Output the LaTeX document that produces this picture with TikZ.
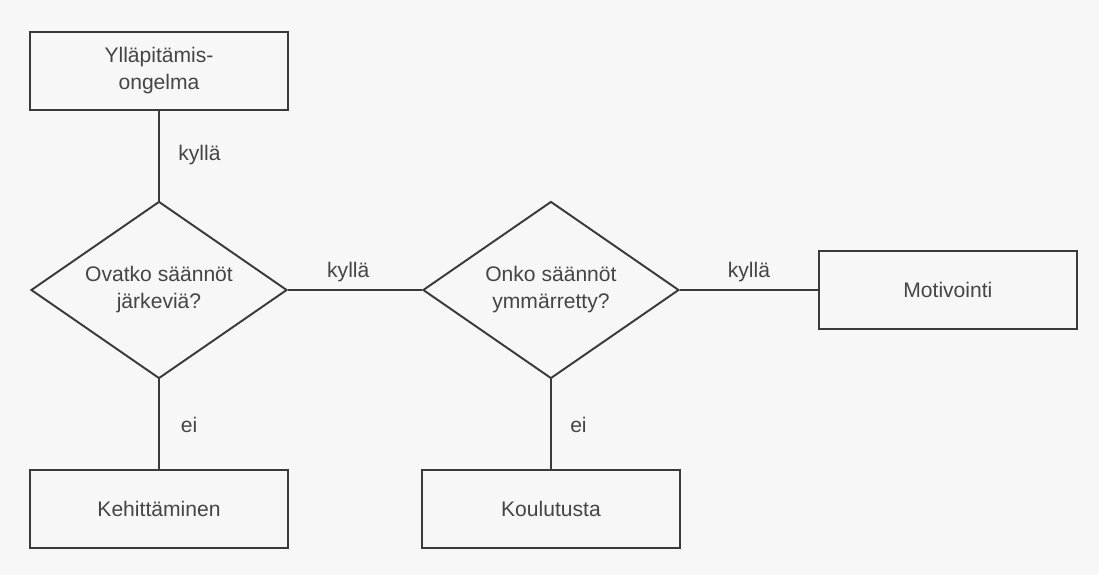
\documentclass[tikz,border=0pt]{standalone}
\usepackage{fontspec}
\setmainfont{Liberation Sans}
\usetikzlibrary{positioning, shapes.geometric}
\definecolor{ink}{HTML}{3A3A3A}
\definecolor{inktext}{HTML}{454545}
\definecolor{paper}{HTML}{F7F7F7}
\tikzset{
  box/.style={
    rectangle, draw=ink, line width=1.1pt,
    minimum width=5.16cm, minimum height=1.55cm,
    align=center, text=inktext, font=\fontsize{12}{15.4}\selectfont
  },
  question/.style={
    diamond, aspect=1.45, inner sep=0pt,
    draw=ink, line width=1.1pt,
    minimum width=5.12cm, minimum height=3.54cm,
    align=center, text=inktext, font=\fontsize{12}{15.4}\selectfont
  },
  link/.style={draw=ink, line width=1.1pt},
  answer/.style={text=inktext, font=\fontsize{12}{15}\selectfont},
}

\begin{document}
\begin{tikzpicture}[node distance=1.8cm and 2.68cm]
  \fill[paper] (-3.18,-5.7) rectangle (18.8,5.8);
  \useasboundingbox (-3.18,-5.7) rectangle (18.8,5.8);

  \node[question] (q1) {Ovatko säännöt\\järkeviä?};
  \node[question, right=of q1] (q2) {Onko säännöt\\ymmärretty?};
  \node[box, above=of q1] (yllapito) {Ylläpitämis-\\ongelma};
  \node[box, below=of q1] (kehitys) {Kehittäminen};
  \node[box, below=of q2] (koulutus) {Koulutusta};
  \node[box, right=2.76cm of q2] (motivointi) {Motivointi};

  \draw[link] (yllapito) -- node[answer, right=0.25cm] {kyllä} (q1);
  \draw[link] (q1) -- node[answer, above=1pt, pos=0.45] {kyllä} (q2);
  \draw[link] (q2) -- node[answer, above=1pt] {kyllä} (motivointi);
  \draw[link] (q1) -- node[answer, right=0.3cm] {ei} (kehitys);
  \draw[link] (q2) -- node[answer, right=0.25cm] {ei} (koulutus);
\end{tikzpicture}
\end{document}
